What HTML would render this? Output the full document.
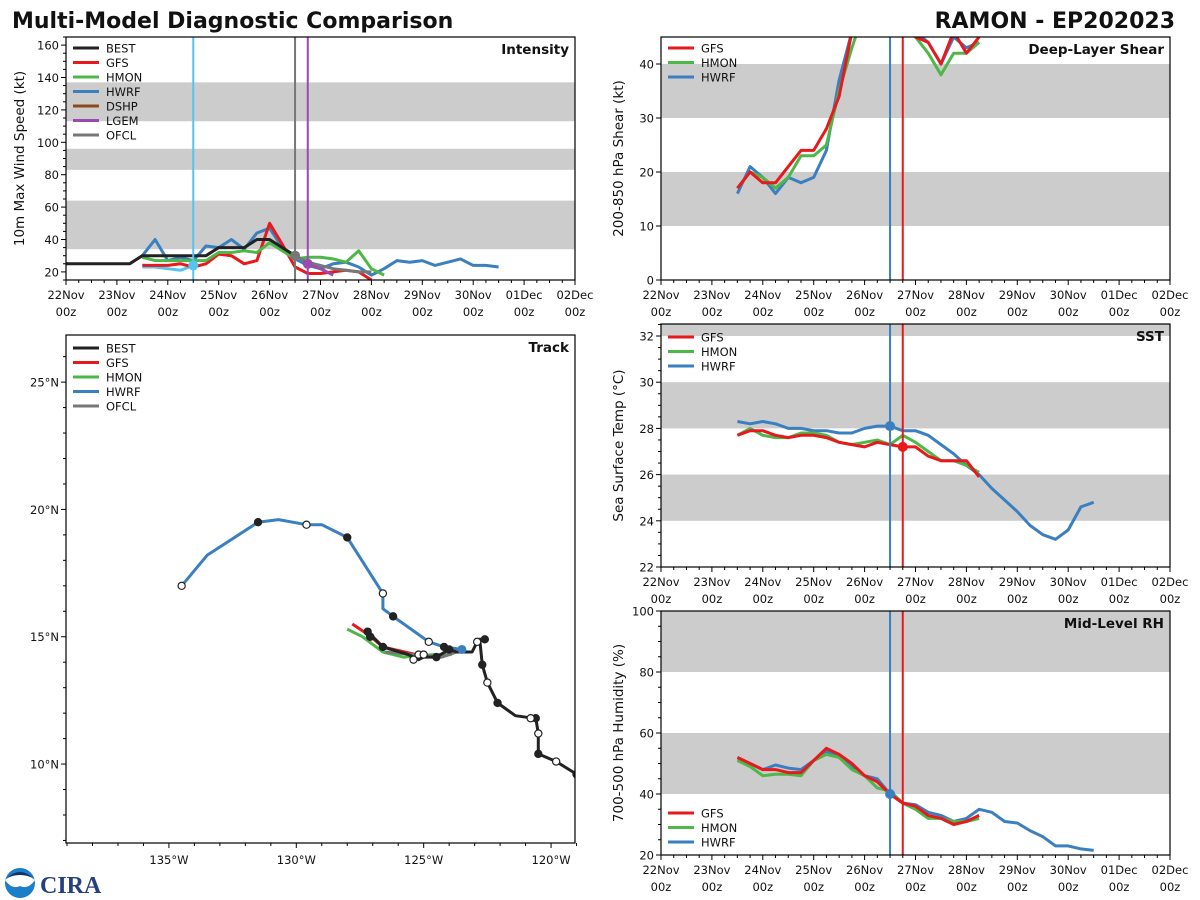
<!DOCTYPE html>
<html><head><meta charset="utf-8">
<style>
html,body{margin:0;padding:0;background:#fff;}
svg{display:block;font-family:"DejaVu Sans","Liberation Sans",sans-serif;}
</style></head>
<body>
<svg id="chart" width="1200" height="900" viewBox="0 0 1200 900" xmlns="http://www.w3.org/2000/svg">
<text x="12" y="28" font-size="22" font-weight="bold" fill="#111">Multi-Model Diagnostic Comparison</text>
<text x="1175" y="28" font-size="22" font-weight="bold" fill="#111" text-anchor="end">RAMON - EP202023</text>
<g>
<circle cx="20" cy="883" r="15" fill="#1b7ec8"/>
<path d="M5,880 Q20,868 35,880 Q28,890 20,886 Q12,890 5,880Z" fill="#fff"/>
<path d="M7,878 Q20,866 33,878 Q20,872 7,878Z" fill="#13306b"/>
<text x="40" y="893" font-size="24" font-weight="bold" fill="#24407f" font-family="Liberation Serif,serif">CIRA</text>
</g>
<g id="root"></g>
</svg>
<script>
// ---------- DATA ----------
const dayLabels = ["22Nov","23Nov","24Nov","25Nov","26Nov","27Nov","28Nov","29Nov","30Nov","01Dec","02Dec"];
const intBestStart = 0;
const intBest = [25,25,25,25,25,25,30,30,30,30,30,30,35,35,35,40,40,35,30];
const intGfsStart = 1.5;
const intGfs = [24,24,24,25,23,25,31,30,25,27,50,37,23,19,19,20,21,20,15];
const intHmonStart = 1.5;
const intHmon = [29,27,27,27,27,27,32,32,33,32,38,33,28,29,29,28,26,33,22,18];
const intHwrfStart = 1.5;
const intHwrf = [30,40,27,29,27,36,35,40,34,44,47,35,28,24,22,25,26,23,18,22,27,26,27,24,26,28,24,24,23];
const intCyanStart = 1.5;
const intCyan = [23,23,22,21,24];
const intLgemStart = 4.75;
const intLgem = [25,22,18];
const intOfclStart = 4.5;
const intOfcl = [30,26,24,22,21,20,20];
const shearStart = 1.5;
const shearGfs = [17,20,18,18,21,24,24,28,34,46,52,55,52,50,45,44,40,46,42,45];
const shearHmon = [17,20,19,17,19,23,23,25,35,43,50,55,52,50,45,42,38,42,42,44];
const shearHwrf = [16,21,19,16,19,18,19,24,37,46,52,55,52,50,46,44,40,45,43,44];
const sstStart = 1.5;
const sstGfs = [27.7,27.9,27.9,27.7,27.6,27.7,27.7,27.6,27.4,27.3,27.2,27.4,27.3,27.2,27.2,26.8,26.6,26.6,26.6,25.9];
const sstHmon = [27.7,28.0,27.7,27.6,27.6,27.8,27.8,27.7,27.4,27.3,27.4,27.5,27.3,27.7,27.4,27.0,26.6,26.6,26.4,26.1];
const sstHwrf = [28.3,28.2,28.3,28.2,28.0,28.0,27.9,27.9,27.8,27.8,28.0,28.1,28.1,27.9,27.9,27.7,27.3,26.9,26.4,26.0,25.4,24.9,24.4,23.8,23.4,23.2,23.6,24.6,24.8];
const rhStart = 1.5;
const rhGfs = [52,50,48,48,47,47,51,55,53,50,46,44,40,37,36,33,32,30,31,33];
const rhHmon = [51,49,46,46.5,46.5,46,51,53,52,48,46,42,41,37,35,32,32,31,31,32];
const rhHwrf = [51,50,48,49.5,48.5,48,51,54,52,49,46,45,40,37,36.5,34,33,31,32,35,34,31,30.5,28,26,23,23,22,21.5];
const trkBestLon = [-119.0,-119.8,-120.5,-120.5,-120.6,-120.7,-121.4,-122.1,-122.5,-122.7,-122.8,-122.6,-122.9,-123.1,-123.7,-124.0,-124.5,-125.0,-125.2,-125.6,-126.6,-127.0,-127.2];
const trkBestLat = [9.6,10.1,10.4,11.2,11.8,11.8,11.9,12.4,13.2,13.9,14.9,14.9,14.8,14.4,14.4,14.5,14.2,14.2,14.1,14.3,14.6,15.0,15.2];
const trkHwrfLon = [-134.5,-133.5,-131.5,-130.7,-129.6,-129.0,-128.0,-126.6,-126.6,-126.2,-124.8,-124.2,-123.5];
const trkHwrfLat = [17.0,18.2,19.5,19.6,19.4,19.4,18.9,16.7,16.1,15.8,14.8,14.6,14.5];
const trkGfsLon = [-127.8,-127.2,-126.6,-125.3,-124.3,-124.0];
const trkGfsLat = [15.5,15.1,14.6,14.3,14.2,14.3];
const trkHmonLon = [-128.0,-127.4,-126.6,-125.8,-124.6,-123.9];
const trkHmonLat = [15.3,15.0,14.4,14.2,14.3,14.3];
const trkOfclLon = [-126.5,-124.3,-123.7];
const trkOfclLat = [14.4,14.2,14.4];
const trkHwrfFilledLon = [-131.5,-128.0,-126.2,-124.2];
const trkHwrfFilledLat = [19.5,18.9,15.8,14.6];
const trkHwrfOpenLon = [-134.5,-129.6,-126.6,-124.8];
const trkHwrfOpenLat = [17.0,19.4,16.7,14.8];
const trkBestFilledLon = [-119.0,-120.5,-120.6,-122.1,-122.7,-122.6,-124.0,-124.5,-126.6,-127.1,-127.2];
const trkBestFilledLat = [9.6,10.4,11.8,12.4,13.9,14.9,14.5,14.2,14.6,15.0,15.2];
const trkBestOpenLon = [-119.8,-120.5,-120.8,-122.5,-122.9,-125.2,-125.4,-125.0];
const trkBestOpenLat = [10.1,11.2,11.8,13.2,14.8,14.3,14.1,14.3];
const lonTicks = [-135,-130,-125,-120];
const latTicks = [25,20,15,10];

const C = {best:"#222222",gfs:"#e8191c",hmon:"#4db748",hwrf:"#3a7fbf",dshp:"#8b4a1c",lgem:"#9b4aad",ofcl:"#777777",cyan:"#55c5f0"};

const NS="http://www.w3.org/2000/svg";
const root=document.getElementById('root');
function mk(tag,attrs,parent){const e=document.createElementNS(NS,tag);for(const k in attrs)e.setAttribute(k,attrs[k]);(parent||root).appendChild(e);return e;}

function makePanel(p){
  const g=mk('g',{});
  
  
  p.g=g;
  p.sx=d=>p.x0+(d-p.xmin)*(p.x1-p.x0)/(p.xmax-p.xmin);
  p.sy=v=>p.y1-(v-p.ymin)*(p.y1-p.y0)/(p.ymax-p.ymin);
  const cid='clip'+p.key;
  const cp=mk('clipPath',{id:cid},g);
  mk('rect',{x:p.x0,y:p.y0,width:p.x1-p.x0,height:p.y1-p.y0},cp);
  p.plot=mk('g',{'clip-path':'url(#'+cid+')'},g);
  (p.bands||[]).forEach(b=>{
    const r=mk('rect',{x:p.x0,y:p.sy(Math.min(b[1],p.ymax)),width:p.x1-p.x0,height:p.sy(b[0])-p.sy(Math.min(b[1],p.ymax)),fill:'#cccccc'},p.plot);
    
    
  });
  return p;
}
function axisFrame(p){
  const r=mk('rect',{x:p.x0,y:p.y0,width:p.x1-p.x0,height:p.y1-p.y0,fill:'none',stroke:'#000','stroke-width':1.2},p.g);
  
  
}
function timeXAxis(p){
  for(let i=0;i<=40;i++){
    const x=p.sx(i/4);
    mk('line',{x1:x,x2:x,y1:p.y1,y2:p.y1+(i%4==0?5:3),stroke:'#000','stroke-width':1},p.g);
  }
  dayLabels.forEach((lab,i)=>{
    const t=mk('text',{x:p.sx(i),y:p.y1+19,'font-size':11.5,'text-anchor':'middle',fill:'#111'},p.g);
    t.textContent=lab;
    
    
    const t2=mk('text',{x:p.sx(i),y:p.y1+36,'font-size':11.5,'text-anchor':'middle',fill:'#111'},p.g);
    t2.textContent='00z';
    
    
  });
}
function yAxis(p,major,minor,title){
  for(let v=Math.ceil(p.ymin/minor)*minor;v<=p.ymax+1e-9;v+=minor){
    const y=p.sy(v);const isM=Math.abs(v/major-Math.round(v/major))<1e-6;
    mk('line',{x1:p.x0,x2:p.x0-(isM?5:3),y1:y,y2:y,stroke:'#000','stroke-width':1},p.g);
    if(isM){
      const t=mk('text',{x:p.x0-7,y:y+4.5,'font-size':11.5,'text-anchor':'end',fill:'#111'},p.g);
      t.textContent=Math.round(v);
      
      
    }
  }
  const cy=(p.y0+p.y1)/2;
  const t=mk('text',{x:p.x0-p.tOff,y:cy,'font-size':13.5,'text-anchor':'middle',fill:'#111',transform:'rotate(-90 '+(p.x0-p.tOff)+' '+cy+')'},p.g);
  t.textContent=title;
  
  
}
function series(p,start,vals,color,name,w){
  const pts=vals.map((v,i)=>p.sx(start+i*0.25).toFixed(1)+','+p.sy(v).toFixed(1)).join(' ');
  const l=mk('polyline',{points:pts,fill:'none',stroke:color,'stroke-width':w||3,'stroke-linejoin':'round'},p.plot);
  
  
}
function vline(p,d,color,name){
  const x=p.sx(d);
  const l=mk('line',{x1:x,x2:x,y1:p.y0,y2:p.y1,stroke:color,'stroke-width':2},p.plot);
  
  
}
function dot(p,d,v,color){
  const c=mk('circle',{cx:p.sx(d),cy:p.sy(v),r:5,fill:color},p.plot);
  
  
}
function panelLabel(p,txt){
  const t=mk('text',{x:p.x1-6,y:p.y0+17,'font-size':13.5,'font-weight':'bold','text-anchor':'end',fill:'#111'},p.g);
  t.textContent=txt;
  
  
}
function legend(p,x,y,items){
  const lg=mk('g',{},p.g);
  
  
  items.forEach((it,i)=>{
    const yy=y+i*14.5;
    mk('line',{x1:x,x2:x+26,y1:yy,y2:yy,stroke:it[1],'stroke-width':3},lg);
    const t=mk('text',{x:x+33,y:yy+4.5,'font-size':11.5,fill:'#111'},lg);
    t.textContent=it[0];
    
    
  });
}

const pI=makePanel({key:'I',name:'intensity-panel',x0:66,x1:575,y0:37,y1:280,xmin:0,xmax:10,ymin:15,ymax:165,tOff:42,bands:[[34,64],[83,96],[113,137]]});
series(pI,intCyanStart,intCyan,C.cyan,'cyan-intensity-line');
series(pI,intHwrfStart,intHwrf,C.hwrf,'hwrf-intensity-line');
series(pI,intGfsStart,intGfs,C.gfs,'gfs-intensity-line');
series(pI,intHmonStart,intHmon,C.hmon,'hmon-intensity-line');
series(pI,intLgemStart,intLgem,C.lgem,'lgem-intensity-line');
series(pI,intOfclStart,intOfcl,C.ofcl,'ofcl-intensity-line');
series(pI,intBestStart,intBest,C.best,'best-intensity-line');
vline(pI,2.5,C.cyan,'cyan-init-line');
vline(pI,4.5,C.ofcl,'ofcl-init-line');
vline(pI,4.75,C.lgem,'lgem-init-line');
dot(pI,2.5,intCyan[4],C.cyan);
dot(pI,4.5,intOfcl[0],C.ofcl);
dot(pI,4.75,intLgem[0],C.lgem);
axisFrame(pI);timeXAxis(pI);yAxis(pI,20,5,'10m Max Wind Speed (kt)');
panelLabel(pI,'Intensity');
legend(pI,73,48,[['BEST',C.best],['GFS',C.gfs],['HMON',C.hmon],['HWRF',C.hwrf],['DSHP',C.dshp],['LGEM',C.lgem],['OFCL',C.ofcl]]);

const pS=makePanel({key:'S',name:'shear-panel',x0:661,x1:1170,y0:37,y1:280,xmin:0,xmax:10,ymin:0,ymax:45,tOff:38,bands:[[10,20],[30,40]]});
series(pS,shearStart,shearHwrf,C.hwrf,'hwrf-shear-line');
series(pS,shearStart,shearHmon,C.hmon,'hmon-shear-line');
series(pS,shearStart,shearGfs,C.gfs,'gfs-shear-line');
vline(pS,4.5,C.hwrf,'hwrf-init-line');
vline(pS,4.75,C.gfs,'gfs-init-line');
axisFrame(pS);timeXAxis(pS);yAxis(pS,10,10,'200-850 hPa Shear (kt)');
panelLabel(pS,'Deep-Layer Shear');
legend(pS,668,48,[['GFS',C.gfs],['HMON',C.hmon],['HWRF',C.hwrf]]);

const pT=makePanel({key:'T',name:'sst-panel',x0:661,x1:1170,y0:324,y1:567,xmin:0,xmax:10,ymin:22,ymax:32.52,tOff:38,bands:[[24,26],[28,30],[32,33]]});
series(pT,sstStart,sstHwrf,C.hwrf,'hwrf-sst-line');
series(pT,sstStart,sstHmon,C.hmon,'hmon-sst-line');
series(pT,sstStart,sstGfs,C.gfs,'gfs-sst-line');
vline(pT,4.5,C.hwrf,'hwrf-init-line');
vline(pT,4.75,C.gfs,'gfs-init-line');
dot(pT,4.5,sstHwrf[12],C.hwrf);
dot(pT,4.75,sstGfs[13],C.gfs);
axisFrame(pT);timeXAxis(pT);yAxis(pT,2,0.5,'Sea Surface Temp (°C)');
panelLabel(pT,'SST');
legend(pT,668,337,[['GFS',C.gfs],['HMON',C.hmon],['HWRF',C.hwrf]]);

const pR=makePanel({key:'R',name:'rh-panel',x0:661,x1:1170,y0:611,y1:855,xmin:0,xmax:10,ymin:20,ymax:100,tOff:38,bands:[[40,60],[80,100]]});
series(pR,rhStart,rhHwrf,C.hwrf,'hwrf-rh-line');
series(pR,rhStart,rhHmon,C.hmon,'hmon-rh-line');
series(pR,rhStart,rhGfs,C.gfs,'gfs-rh-line');
vline(pR,4.5,C.hwrf,'hwrf-init-line');
vline(pR,4.75,C.gfs,'gfs-init-line');
dot(pR,4.5,rhHwrf[12],C.hwrf);
axisFrame(pR);timeXAxis(pR);yAxis(pR,20,5,'700-500 hPa Humidity (%)');
panelLabel(pR,'Mid-Level RH');
legend(pR,668,813,[['GFS',C.gfs],['HMON',C.hmon],['HWRF',C.hwrf]]);

const pK=makePanel({key:'K',name:'track-panel',x0:66,x1:575,y0:335,y1:843,xmin:-139.04,xmax:-119.06,ymin:6.9,ymax:26.85,tOff:0,bands:[]});
function trk(lons,lats,color,name,w){
  const pts=lons.map((v,i)=>pK.sx(v).toFixed(1)+','+pK.sy(lats[i]).toFixed(1)).join(' ');
  const l=mk('polyline',{points:pts,fill:'none',stroke:color,'stroke-width':w||3,'stroke-linejoin':'round'},pK.plot);
  
  
}
function trkDots(lons,lats,fill,name){
  lons.forEach((v,i)=>{
    const c=mk('circle',{cx:pK.sx(v),cy:pK.sy(lats[i]),r:3.6,fill:fill,stroke:'#222','stroke-width':1.2},pK.plot);
    
    
  });
}
trk(trkHwrfLon,trkHwrfLat,C.hwrf,'hwrf-track');
trk(trkGfsLon,trkGfsLat,C.gfs,'gfs-track');
trk(trkHmonLon,trkHmonLat,C.hmon,'hmon-track');
trk(trkOfclLon,trkOfclLat,C.ofcl,'ofcl-track');
trk(trkBestLon,trkBestLat,C.best,'best-track');
trkDots(trkHwrfFilledLon,trkHwrfFilledLat,'#222','track-point-filled');
trkDots(trkHwrfOpenLon,trkHwrfOpenLat,'#fff','track-point-open');
trkDots(trkBestFilledLon,trkBestFilledLat,'#222','track-point-filled');
trkDots(trkBestOpenLon,trkBestOpenLat,'#fff','track-point-open');
const hc=mk('circle',{cx:pK.sx(trkHwrfLon[12]),cy:pK.sy(trkHwrfLat[12]),r:4.5,fill:C.hwrf},pK.plot);


axisFrame(pK);
for(let lo=-139;lo<=-119;lo++){const x=pK.sx(lo);const m=lo%5==0;mk('line',{x1:x,x2:x,y1:pK.y1,y2:pK.y1+(m?5:3),stroke:'#000'},pK.g);}
for(let la=7;la<=26;la++){const y=pK.sy(la);const m=la%5==0;mk('line',{x1:pK.x0,x2:pK.x0-(m?5:3),y1:y,y2:y,stroke:'#000'},pK.g);}
lonTicks.forEach(v=>{
  const t=mk('text',{x:pK.sx(v),y:pK.y1+21,'font-size':11.5,'text-anchor':'middle',fill:'#111'},pK.g);
  t.textContent=Math.abs(v)+'°W';
  
  
});
latTicks.forEach(v=>{
  const t=mk('text',{x:pK.x0-7,y:pK.sy(v)+4.5,'font-size':11.5,'text-anchor':'end',fill:'#111'},pK.g);
  t.textContent=v+'°N';
  
  
});
panelLabel(pK,'Track');
legend(pK,73,348,[['BEST',C.best],['GFS',C.gfs],['HMON',C.hmon],['HWRF',C.hwrf],['OFCL',C.ofcl]]);
</script>
</body></html>
